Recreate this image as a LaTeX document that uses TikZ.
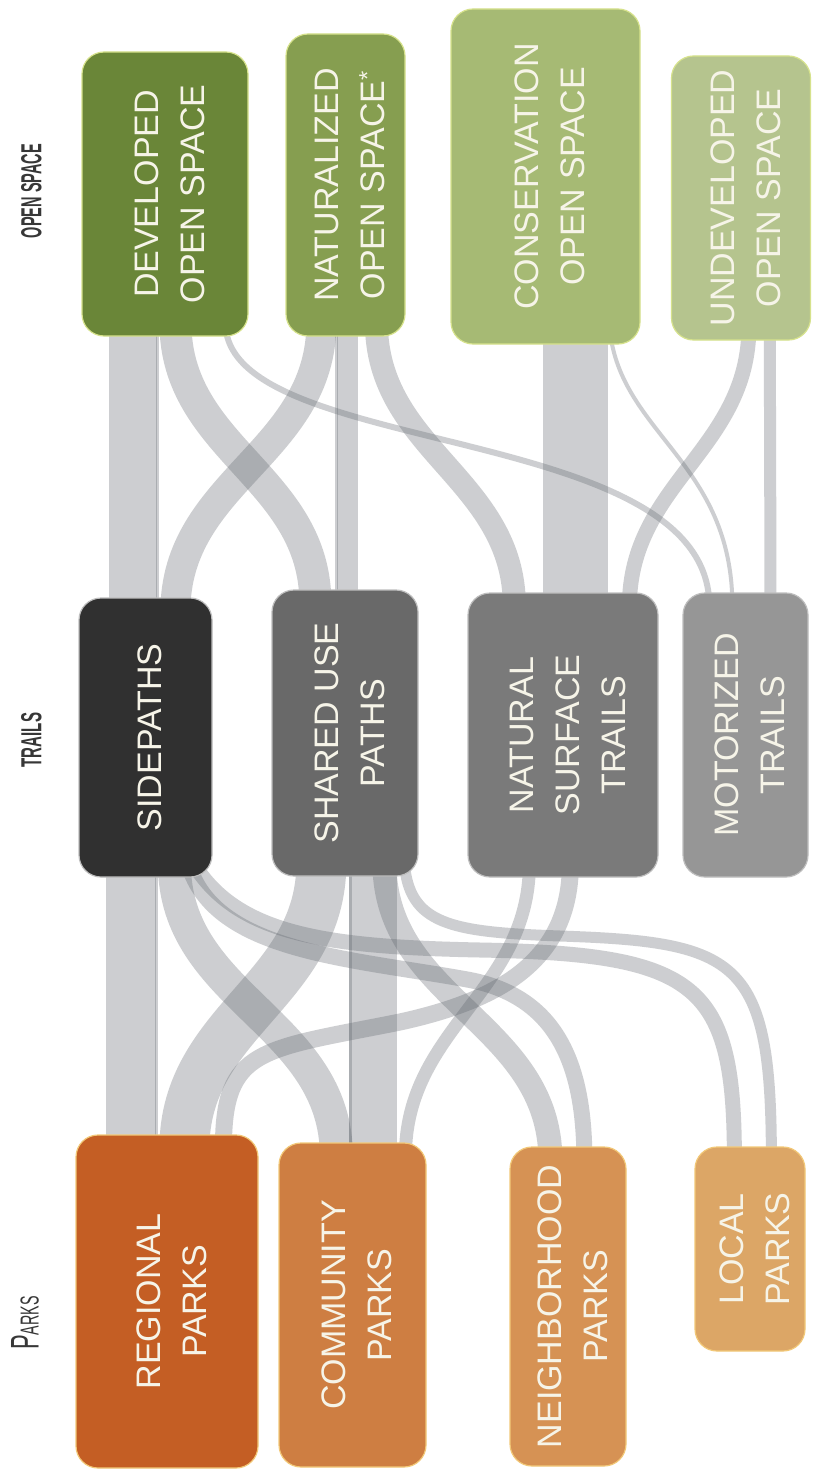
\documentclass[tikz,border=0pt]{standalone}
\usepackage{fontspec}
\setmainfont{Liberation Sans}
\usepackage{graphicx}
\usetikzlibrary{backgrounds}
\definecolor{devgreen}{RGB}{106,134,56}
\definecolor{natgreen}{RGB}{134,158,80}
\definecolor{consgreen}{RGB}{166,186,116}
\definecolor{undevgreen}{RGB}{181,196,142}
\definecolor{greenedge}{RGB}{214,226,140}
\definecolor{sidegray}{RGB}{48,48,48}
\definecolor{sharedgray}{RGB}{105,105,105}
\definecolor{natsurfgray}{RGB}{122,122,122}
\definecolor{motorgray}{RGB}{150,150,150}
\definecolor{grayedge}{RGB}{190,190,190}
\definecolor{regorange}{RGB}{196,94,36}
\definecolor{comorange}{RGB}{206,126,66}
\definecolor{neighorange}{RGB}{214,146,84}
\definecolor{localorange}{RGB}{220,166,102}
\definecolor{orangeedge}{RGB}{242,200,120}
\definecolor{bandgray}{RGB}{95,100,108}
\definecolor{labeltext}{RGB}{246,244,232}
\definecolor{headtext}{RGB}{55,55,55}
\newcommand{\vlabel}[1]{\hspace*{14pt}\rotatebox{90}{\begin{tabular}{@{}c@{}}#1\end{tabular}}}

\begin{document}
\begin{tikzpicture}[x=1pt, y=-1pt,
    box/.style 2 args = {rounded corners=22pt, minimum width=#1, minimum height=#2, inner sep=0pt, line width=1.2pt, text=labeltext, font=\fontsize{34}{46}\selectfont},
    open/.style = {draw=greenedge},
    trail/.style = {draw=grayedge},
    park/.style = {draw=orangeedge},
    band/.style = {draw=bandgray, draw opacity=.31, line width=#1, out=-90, in=90, shorten <=-14pt, shorten >=-14pt},
    head/.style = {text=headtext, inner sep=0pt}]
    \useasboundingbox (0,0) rectangle (825,1479);

    \node[box={166pt}{284pt}, open, fill=devgreen] (dev) at (165,194) {\vlabel{DEVELOPED\\OPEN SPACE}};
    \node[box={119pt}{302pt}, open, fill=natgreen] (nat) at (345.5,185) {\vlabel{NATURALIZED\\OPEN SPACE\textsuperscript{*}}};
    \node[box={189pt}{335pt}, open, fill=consgreen] (cons) at (545.5,176.5) {\vlabel{CONSERVATION\\OPEN SPACE}};
    \node[box={139pt}{284pt}, open, fill=undevgreen] (undev) at (741,198) {\vlabel{UNDEVELOPED\\OPEN SPACE}};

    \node[box={133pt}{279pt}, trail, fill=sidegray] (sidep) at (145.5,737.5) {\vlabel{SIDEPATHS}};
    \node[box={146pt}{286pt}, trail, fill=sharedgray] (shared) at (345,733) {\vlabel{SHARED USE\\PATHS}};
    \node[box={190pt}{284pt}, trail, fill=natsurfgray] (natsurf) at (563,735) {\vlabel{NATURAL\\SURFACE\\TRAILS}};
    \node[box={125pt}{284pt}, trail, fill=motorgray] (motor) at (745.5,735) {\vlabel{MOTORIZED\\TRAILS}};

    \node[box={182pt}{333pt}, park, fill=regorange] (regional) at (167,1301.5) {\vlabel{REGIONAL\\PARKS}};
    \node[box={147pt}{324pt}, park, fill=comorange] (community) at (352.5,1305) {\vlabel{COMMUNITY\\PARKS}};
    \node[box={116pt}{319pt}, park, fill=neighorange] (neigh) at (568,1306.5) {\vlabel{NEIGHBORHOOD\\PARKS}};
    \node[box={110pt}{204pt}, park, fill=localorange] (local) at (750,1249) {\vlabel{LOCAL\\PARKS}};

    \node[head] (oshead) at (31.5,191) {\rotatebox{90}{\scalebox{0.5}[1]{\fontsize{29}{29}\selectfont\bfseries OPEN SPACE}}};
    \node[head] (trhead) at (31.5,740) {\rotatebox{90}{\scalebox{0.52}[1]{\fontsize{29}{29}\selectfont\bfseries TRAILS}}};
    \node[head] (pkhead) at (25,1323) {\rotatebox{90}{\scalebox{0.55}[1]{\fontsize{40}{40}\selectfont P\fontsize{26}{26}\selectfont ARKS}}};

    \begin{scope}[on background layer]
    \fill[white] (0,0) rectangle (825,1479);
    \draw[band=48pt] ([xshift=52pt]dev.south west) to ([xshift=55pt]sidep.north west);
    \draw[band=3pt] ([xshift=76pt]dev.south west) to ([xshift=79pt]sidep.north west);
    \draw[band=32pt] ([xshift=94pt]dev.south west) to ([xshift=44pt]shared.north west);
    \draw[band=30pt] ([xshift=36pt]nat.south west) to ([xshift=97pt]sidep.north west);
    \draw[band=21pt] ([xshift=62pt]nat.south west) to ([xshift=76pt]shared.north west);
    \draw[band=3pt] ([xshift=51pt]nat.south west) to ([xshift=65pt]shared.north west);
    \draw[band=23pt] ([xshift=91pt]nat.south west) to ([xshift=47pt]natsurf.north west);
    \draw[band=6pt] ([xshift=144pt]dev.south west) .. controls +(0,123) and +(0,-173) .. ([xshift=27pt]motor.north west);
    \draw[band=65pt] ([xshift=125pt]cons.south west) to ([xshift=108pt]natsurf.north west);
    \draw[band=4pt] ([xshift=161pt]cons.south west) .. controls +(10,90) and +(0,-130) .. ([xshift=50pt]motor.north west);
    \draw[band=15pt] ([xshift=78pt]undev.south west) to ([xshift=162pt]natsurf.north west);
    \draw[band=12pt] ([xshift=99pt]undev.south west) to ([xshift=88pt]motor.north west);

    \draw[band=50pt] ([xshift=53pt]sidep.south west) to ([xshift=56pt]regional.north west);
    \draw[band=3pt] ([xshift=78pt]sidep.south west) to ([xshift=81pt]regional.north west);
    \draw[band=33pt] ([xshift=96pt]sidep.south west) to ([xshift=58pt]community.north west);
    \draw[band=50pt] ([xshift=50pt]shared.south west) to ([xshift=109pt]regional.north west);
    \draw[band=48pt] ([xshift=102pt]shared.south west) to ([xshift=95pt]community.north west);
    \draw[band=3pt] ([xshift=79pt]shared.south west) to ([xshift=72pt]community.north west);
    \draw[band=24pt] ([xshift=113pt]shared.south west) to ([xshift=41pt]neigh.north west);
    \draw[band=11pt] ([xshift=134pt]shared.south west) .. controls +(4,48) and +(-110,-4) .. (560,936) .. controls +(180,6) and +(0,-187) .. ([xshift=77pt]local.north west);
    \draw[band=15pt] ([xshift=124pt]sidep.south west) .. controls +(37,58) and +(-150,-3) .. (480,950) .. controls +(220,4) and +(0,-162) .. ([xshift=40pt]local.north west);
    \draw[band=16pt] ([xshift=114pt]sidep.south west) .. controls +(22,75) and +(-120,-22) .. (470,980) .. controls +(85,17) and +(0,-85) .. ([xshift=75pt]neigh.north west);
    \draw[band=13pt] ([xshift=62pt]natsurf.south west) to ([xshift=127pt]community.north west);
    \draw[band=17pt] ([xshift=103pt]natsurf.south west) .. controls +(0,83) and +(100,-22) .. (400,1022) .. controls +(-140,28) and +(0,-87) .. ([xshift=148pt]regional.north west);
    \end{scope}
\end{tikzpicture}
\end{document}
